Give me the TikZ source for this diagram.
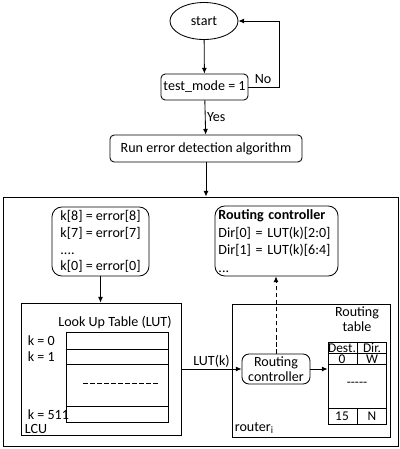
\documentclass[tikz,border=0pt]{standalone}
\usepackage{fontspec}
\setmainfont{Carlito}
\usetikzlibrary{shapes.geometric,arrows.meta}

\begin{document}
\begin{tikzpicture}[x=0.025cm, y=-0.025cm, line width=0.6pt,
    font=\fontsize{10}{12}\selectfont,
    >={Latex[length=4pt,width=3.5pt]},
    flowbox/.style={draw, rounded corners=3pt, inner sep=1pt},
    softbox/.style={draw, rounded corners=7pt, align=left, inner sep=1pt},
    frame/.style={draw, inner sep=0pt},
    lbl/.style={inner sep=1pt},
    cell/.style={inner sep=0pt, font=\fontsize{9.5}{11}\selectfont}]
    \useasboundingbox (0,0) rectangle (400,449);
    % flow
    \node[draw, ellipse, minimum width=1.7cm, minimum height=0.925cm] (start) at (204,21) {start};
    \node[flowbox, minimum width=2.175cm, minimum height=0.65cm] (test) at (204.5,87) {test\_mode = 1};
    \node[flowbox, minimum width=4.8cm, minimum height=0.675cm] (run) at (206,148.5) {Run error detection algorithm};
    \node[frame, minimum width=9.875cm, minimum height=6.225cm] (outer) at (200.5,321.5) {};
    \coordinate (loop) at (279,87);
    \node[lbl] (no) at (263,79) {No};
    \draw[->] (start) -- (test);
    \draw[->] (test.east) -- (loop) |- (start.east);
    \draw[->] (test) -- node[right, lbl] (yes) {Yes} (run);
    \draw[->] (run) -- (run |- outer.north);
    % LCU
    \node[softbox, minimum width=2.425cm, minimum height=1.725cm] (kbox) at (100.5,241.5)
        {k[8] = error[8]\\ k[7] = error[7]\\ ....\\ k[0] = error[0]};
    \node[frame, minimum width=4cm, minimum height=3.3cm] (lcu) at (101,369) {};
    \draw[->] (kbox) -- (kbox |- lcu.north);
    \node[lbl] (luttitle) at (115,322) {Look Up Table (LUT)};
    \draw (66,332) rectangle (168,422);
    \foreach \y in {349,364,406} \draw (66,\y) -- (168,\y);
    \draw[dash pattern=on 3.5pt off 1.5pt] (83,383) -- (158,383);
    \node[lbl, anchor=west] (k0) at (26,341) {k = 0};
    \node[lbl, anchor=west] (k1) at (26,357) {k = 1};
    \node[lbl, anchor=west] (k511) at (26,415) {k = 511};
    \node[lbl, anchor=west] (lcuname) at (23,429) {LCU};
    % router
    \node[frame, minimum width=3.95cm, minimum height=3.325cm] (router) at (311,370.5) {};
    \node[flowbox, rounded corners=5pt, align=center, minimum width=1.7cm, minimum height=0.75cm] (rc) at (276,369)
        {Routing\\[-1pt]controller};
    \node[frame, minimum width=1.45cm, minimum height=2.05cm] (rt) at (357,383) {};
    \draw[->] (lcu) -- node[above, lbl] (lutk) {LUT(k)} (rc);
    \draw[->] (rc) -- (rc -| rt.west);
    \foreach \y in {353,364,408} \draw (328,\y) -- (386,\y);
    \draw (357,342) -- (357,364) (357,408) -- (357,424);
    \node[lbl, align=center] (rttitle) at (357,319) {Routing\\[-1pt]table};
    \node[cell, anchor=base] (dest) at (342,352) {Dest.};
    \node[cell, anchor=base] (dir) at (372,352) {Dir.};
    \node[cell, anchor=base] (d0) at (342,363) {0};
    \node[cell, anchor=base] (w) at (372,363) {W};
    \node[cell] (rtdots) at (357,384) {{-}{-}{-}{-}{-}};
    \node[cell] (d15) at (342,416) {15};
    \node[cell] (n) at (372,416) {N};
    \node[lbl, anchor=west] (routername) at (233,428) {router\textsubscript{i}};
    % controller
    \node[softbox, minimum width=3.075cm, minimum height=1.75cm, text width=2.9cm,
        font=\fontsize{10}{12.5}\selectfont] (rcbig) at (276.5,241)
        {\textbf{Routing controller}\\ Dir[0] = LUT(k)[2:0]\\ Dir[1] = LUT(k)[6:4]\\ ...};
    \draw[->, dash pattern=on 3pt off 2pt] (rc.north) -- (rc.north |- rcbig.south);
\end{tikzpicture}
\end{document}
